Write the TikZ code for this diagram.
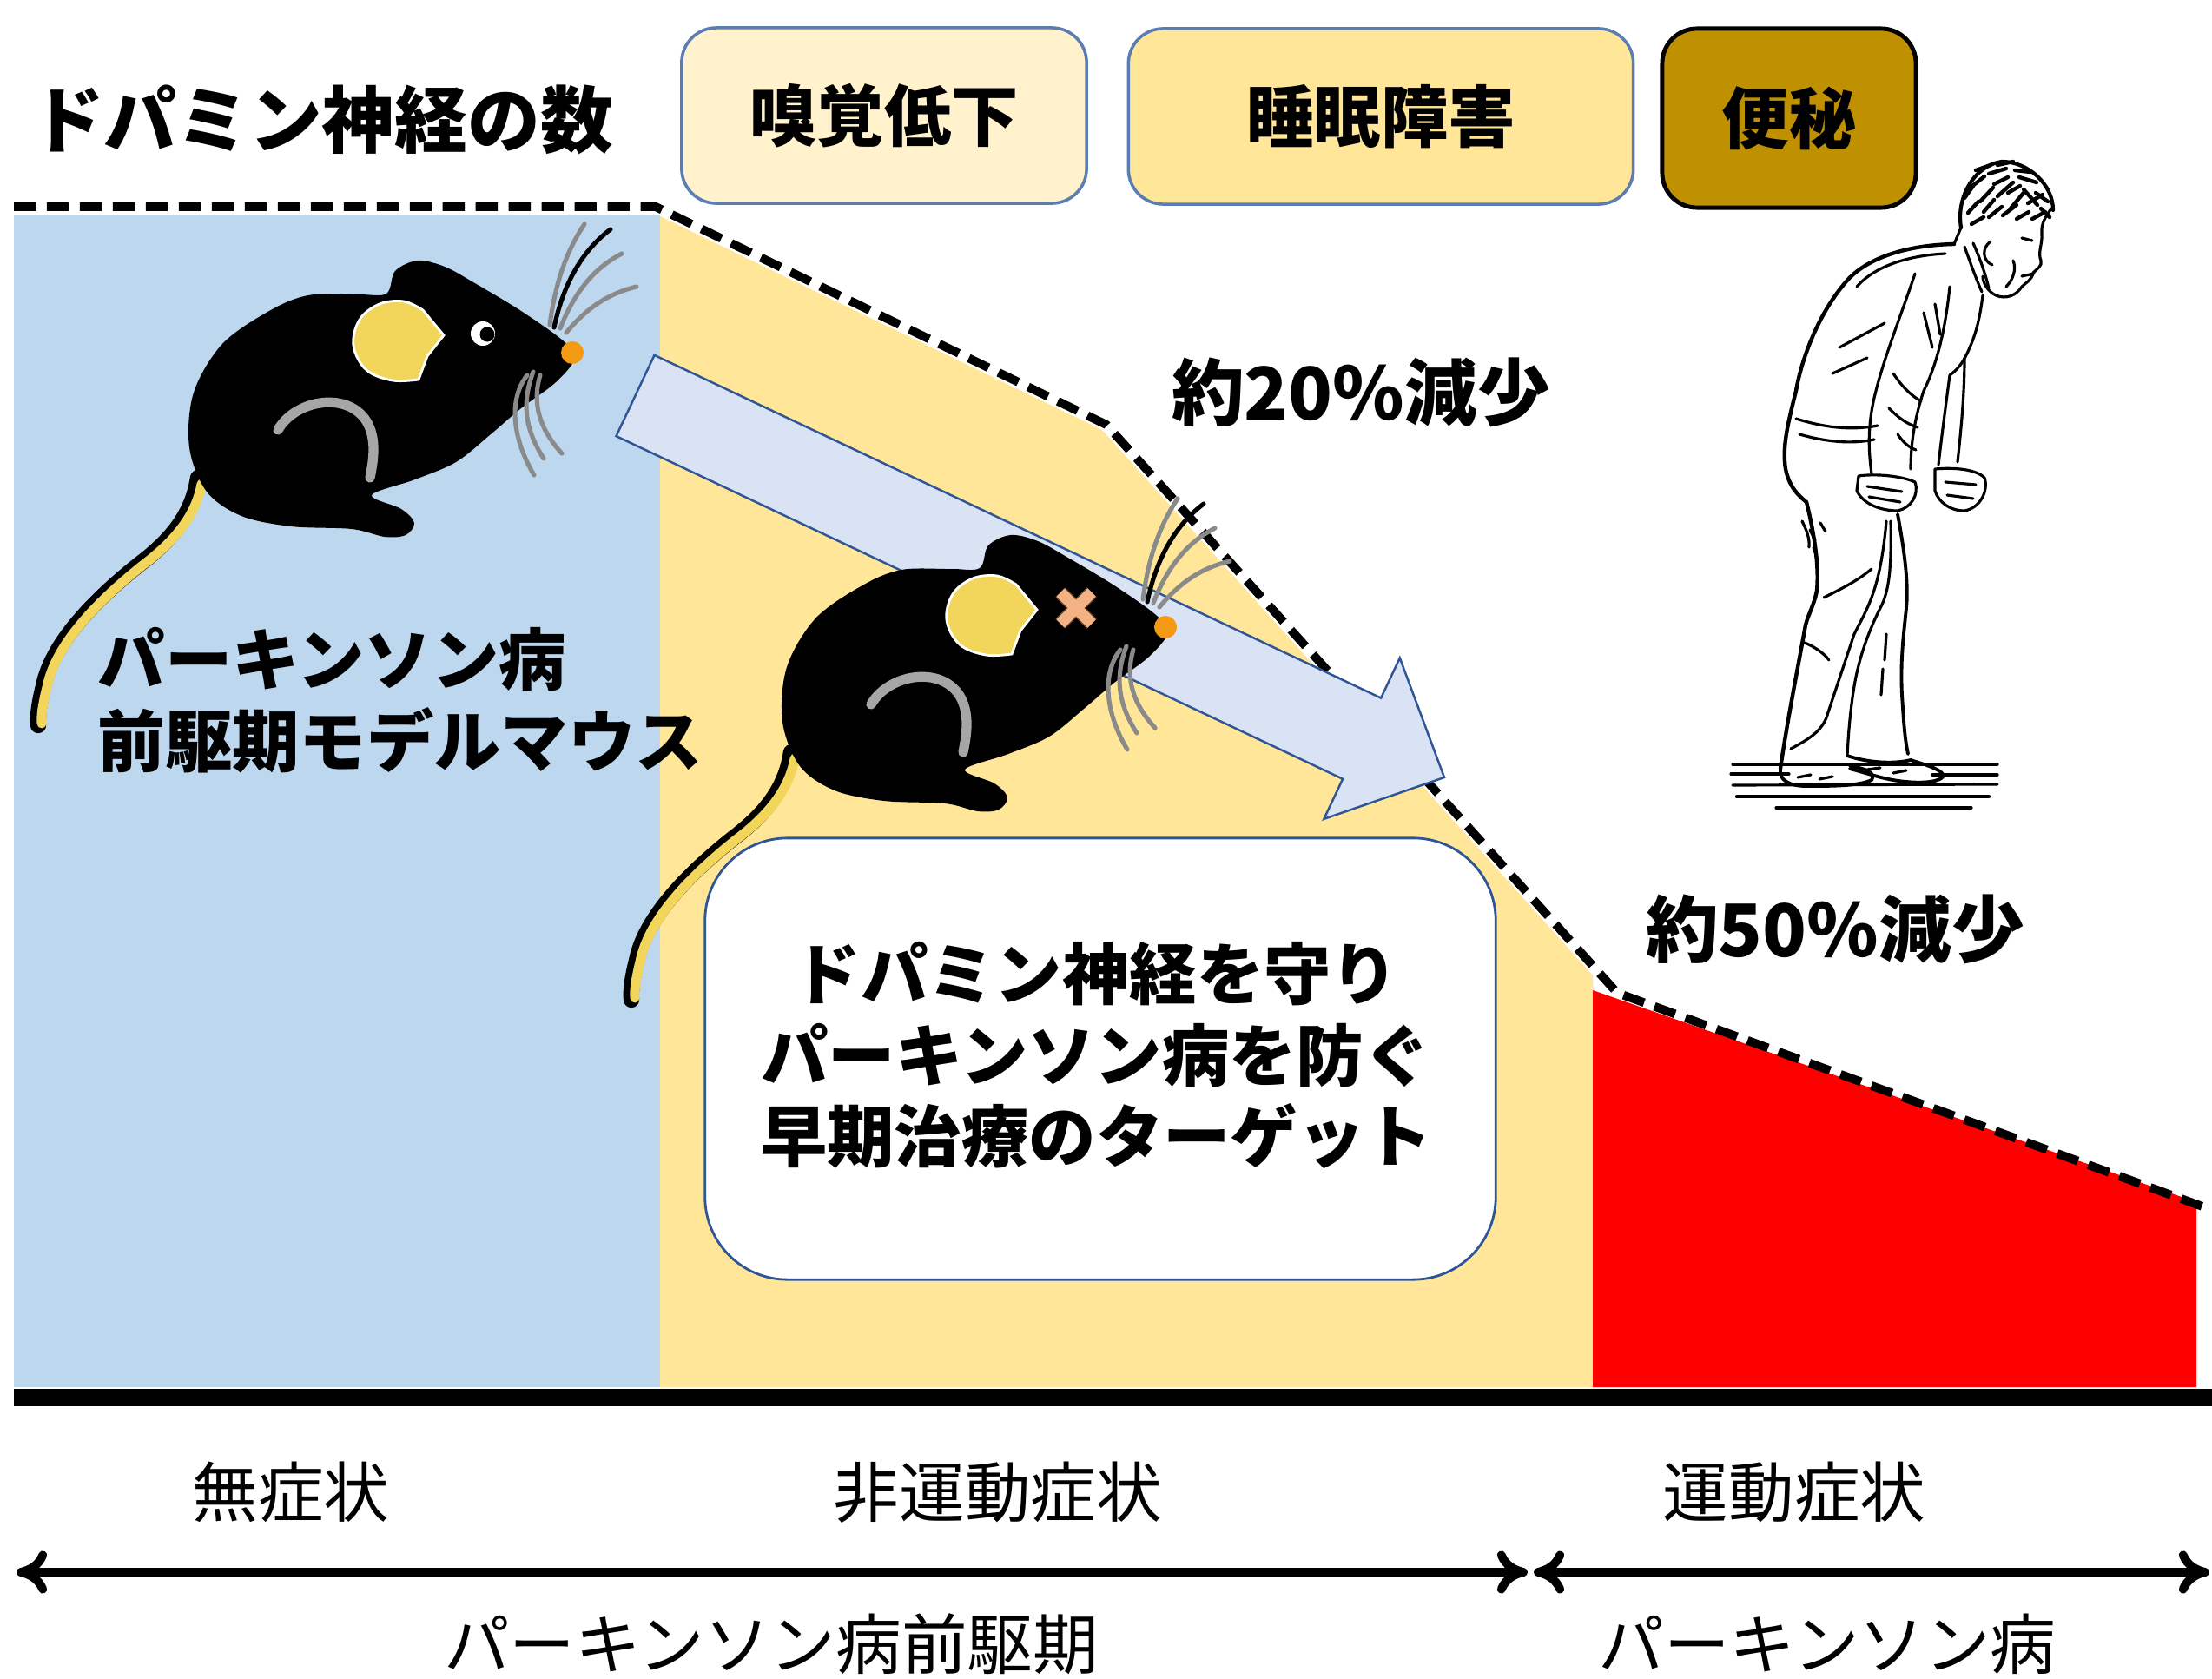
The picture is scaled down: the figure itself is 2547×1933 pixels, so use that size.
\documentclass[tikz,border=0pt]{standalone}
\usepackage{fontspec}
\setmainfont{Noto Sans CJK JP}
\usetikzlibrary{arrows.meta}

\definecolor{bgblue}{HTML}{BDD7EE}
\definecolor{bgyellow}{HTML}{FFE699}
\definecolor{paleyellow}{HTML}{FFF2CC}
\definecolor{mustard}{HTML}{BF9000}
\definecolor{boxedge}{HTML}{5B7DB1}
\definecolor{arrowfill}{HTML}{DAE3F3}
\definecolor{arrowedge}{HTML}{2F5597}
\definecolor{earyellow}{HTML}{F2D65C}
\definecolor{noseorange}{HTML}{F39A12}
\definecolor{leggray}{HTML}{A6A6A6}
\definecolor{whiskergray}{HTML}{8A8A8A}
\definecolor{peach}{HTML}{F4B183}

\tikzset{
  jpbold/.style={font=\bfseries\fontsize{22pt}{26.7pt}\selectfont, inner sep=0pt},
  jpbig/.style={font=\bfseries\fontsize{23.8pt}{28pt}\selectfont, inner sep=0pt},
  jpplain/.style={font=\fontsize{21.5pt}{26pt}\selectfont, inner sep=0pt},
  symbox/.style={rounded corners=0.4cm, draw=boxedge, line width=1pt, inner sep=0pt,
    font=\bfseries\fontsize{22pt}{26pt}\selectfont},
  dropline/.style={line width=2.8pt, dash pattern=on 7.2pt off 3.6pt},
  bigarrow/.style={fill=arrowfill, draw=arrowedge, line width=0.7pt, line join=miter},
  span/.style={line width=2.8pt, {Computer Modern Rightarrow[length=10pt,width=14pt]}-{Computer Modern Rightarrow[length=10pt,width=14pt]}},
  whisker/.style={draw=whiskergray, line width=1.45pt, line cap=round},
  manline/.style={line width=0.9pt, line cap=round, line join=round},
  mousefig/.pic={
    % tail: dark edge with a yellow core
    \draw[line width=5.2pt, line cap=round] (228,550) .. controls (222,590) and (200,620) .. (160,650)
      .. controls (110,690) and (60,740) .. (50,790) .. controls (45,810) and (43,825) .. (44,835);
    \draw[earyellow, line width=3.1pt, line cap=round, shift={(4,1)}] (228,556) .. controls (222,590) and (200,620) .. (160,650)
      .. controls (110,690) and (60,740) .. (50,790) .. controls (45,810) and (43,825) .. (44,832);
    % body with head and hind foot
    \fill[black] plot[smooth cycle, tension=0.55] coordinates {
      (445,338) (455,312) (481,300) (512,307) (545,325) (600,358) (648,392) (662,412)
      (640,440) (600,470) (565,500) (525,532) (478,552) (428,570) (462,586) (477,602)
      (467,616) (443,618) (405,609) (335,606) (278,594) (238,566) (218,515) (223,452)
      (256,396) (310,358) (355,340) (412,339)};
    % ear
    \filldraw[fill=earyellow, draw=white, line width=0.8pt]
      plot[smooth, tension=0.6] coordinates {(482,437) (452,438) (422,426) (407,398) (414,368) (437,350) (465,347) (487,357)}
      -- (511,386) -- (492,410) -- cycle;
    % hind leg
    \draw[leggray, line width=3.2pt, line cap=round] (320,495) .. controls (340,460) and (400,450) .. (422,485)
      .. controls (434,505) and (430,530) .. (426,550);
    % nose
    \fill[noseorange] (659,406) circle (13);
    % whiskers
    \draw[whisker] (633,374) .. controls (640,320) and (655,285) .. (673,258);
    \draw[whisker, draw=black] (638,377) .. controls (650,320) and (675,285) .. (703,264);
    \draw[whisker] (645,378) .. controls (662,335) and (685,308) .. (716,292);
    \draw[whisker] (652,383) .. controls (675,355) and (700,338) .. (733,330);
    \draw[whisker] (607,432) .. controls (585,460) and (590,505) .. (615,547);
    \draw[whisker] (614,428) .. controls (600,465) and (605,495) .. (626,528);
    \draw[whisker] (622,432) .. controls (612,465) and (622,495) .. (647,522);
  }
}

\begin{document}
\begin{tikzpicture}[x=0.01cm, y=-0.01cm]
\useasboundingbox (0,0) rectangle (2547,1933);
\fill[white] (0,0) rectangle (2547,1933);

% stage backgrounds
\fill[bgblue] (16,248) rectangle (760,1597);
\fill[bgyellow] (760,249) -- (1269,495) -- (1834,1123) -- (1834,1597) -- (760,1597) -- cycle;
\fill[red] (1834,1140) -- (2529,1384) -- (2529,1597) -- (1834,1597) -- cycle;

% decline of dopamine neurons
\coordinate (d0) at (16,238);
\coordinate (d1) at (755,238);
\coordinate (d2) at (1274,489);
\coordinate (d3) at (1862,1143);
\coordinate (d4) at (2547,1393);
\draw[dropline] (d0) -- (d1) -- (d2) -- (d3) -- (d4);

% time axis
\coordinate (ax0) at (16,1609);
\coordinate (ax1) at (2547,1609);
\draw[line width=5.7pt] (ax0) -- (ax1);

% healthy-looking model mouse
\pic at (0,0) {mousefig};
\fill[white] (556,384) circle (14);
\fill[black] (561,385) circle (8.5);

% progression arrow
\coordinate (a1) at (753.5,408.9);
\coordinate (a2) at (1590.1,803.6);
\coordinate (a3) at (1611.8,757.5);
\coordinate (a4) at (1663,895);
\coordinate (a5) at (1524.4,942.9);
\coordinate (a6) at (1546.1,896.8);
\coordinate (a7) at (709.5,502.1);
\draw[bigarrow] (a1) -- (a2) -- (a3) -- (a4) -- (a5) -- (a6) -- (a7) -- cycle;

% affected mouse
\pic at (683,316) {mousefig};
\begin{scope}[shift={(683,316)}]
  \draw[line width=4.6pt, draw=black!50!brown] (538,366) -- (574,402) (538,402) -- (574,366);
  \draw[line width=3.8pt, peach] (538,366) -- (574,402) (538,402) -- (574,366);
\end{scope}

% message box
\node[draw=arrowedge, fill=white, line width=0.8pt, rounded corners=0.95cm,
      minimum width=9.1cm, minimum height=5.08cm] (target) at (1267,1219) {};
\node[jpbold, align=center] (targettxt) at (1262,1215)
  {ドパミン神経を守り\\パーキンソン病を防ぐ\\早期治療のターゲット};

% titles and labels
\node[jpbig] (title) at (371,138) {ドパミン神経の数};
\node[jpbold, align=left, anchor=west] (mouselbl) at (112,806) {パーキンソン病\\前駆期モデルマウス};
\node[jpbig] (drop20) at (1567,452) {約20\%減少};
\node[jpbig] (drop50) at (2113,1070) {約50\%減少};

% non-motor and motor symptoms
\node[symbox, fill=paleyellow, minimum width=4.66cm, minimum height=2.02cm] (smell) at (1018,133) {嗅覚低下};
\node[symbox, fill=bgyellow, minimum width=5.81cm, minimum height=2.02cm] (sleep) at (1590,134) {睡眠障害};
\node[symbox, fill=mustard, draw=black, line width=1.4pt, minimum width=2.92cm, minimum height=2.06cm] (consti) at (2060,136) {便秘};

% stooped patient
\begin{scope}[manline]
  % head and hair
  \draw[line width=1.2pt] (2258,262) .. controls (2252,225) and (2275,190) .. (2305,186) .. controls (2335,186) and (2364,212) .. (2364,242);
  \draw (2362,240) .. controls (2355,250) and (2350,258) .. (2351,268) .. controls (2352,282) and (2346,290) .. (2350,300)
        .. controls (2352,306) and (2345,310) .. (2341,314) .. controls (2340,322) and (2332,326) .. (2328,330)
        .. controls (2322,340) and (2310,345) .. (2298,340) .. controls (2288,335) and (2283,325) .. (2283,318);
  \draw (2292,278) .. controls (2282,285) and (2282,300) .. (2294,305);
  \draw (2328,274) -- (2340,277);
  \draw (2328,318) -- (2342,315);
  \draw (2318,300) .. controls (2322,310) and (2318,322) .. (2310,330);
  \foreach \xa/\ya/\xb/\yb in {2270/215/2285/203, 2280/232/2295/216, 2290/200/2310/194, 2300/226/2318/210,
      2315/240/2330/222, 2325/204/2345/210, 2335/234/2352/224, 2266/245/2278/232, 2290/250/2305/238,
      2340/252/2355/244, 2306/248/2322/236, 2320/196/2338/198, 2275/196/2292/190, 2262/228/2272/214,
      2284/244/2296/230, 2296/212/2312/204, 2312/222/2326/214, 2330/218/2346/236, 2344/222/2358/232,
      2300/190/2318/186, 2270/258/2284/250, 2322/252/2336/244, 2350/240/2360/250}
    \draw[line width=1.25pt] (\xa,\ya) -- (\xb,\yb);
  % neck and collar
  \draw (2258,262) -- (2250,281);
  \draw (2262,284) .. controls (2268,300) and (2274,318) .. (2282,336);
  \draw (2272,280) .. controls (2280,298) and (2286,315) .. (2290,332);
  % back, seat and rear leg
  \draw[line width=1.25pt] (2250,281) .. controls (2200,282) and (2150,295) .. (2125,325)
        .. controls (2095,360) and (2075,410) .. (2068,450) .. controls (2058,490) and (2052,515) .. (2056,540)
        .. controls (2060,560) and (2070,570) .. (2080,578) .. controls (2088,610) and (2095,650) .. (2092,680)
        .. controls (2088,700) and (2080,710) .. (2078,725) .. controls (2068,780) and (2058,830) .. (2050,885);
  \draw (2240,292) .. controls (2200,294) and (2160,305) .. (2138,330);
  \draw (2062,862) .. controls (2085,850) and (2100,840) .. (2105,820) .. controls (2115,790) and (2125,760) .. (2135,730)
        .. controls (2150,700) and (2165,680) .. (2172,600);
  \draw (2100,688) .. controls (2120,678) and (2140,668) .. (2155,655);
  \draw (2078,740) .. controls (2090,745) and (2100,752) .. (2106,760);
  \draw (2084,610) -- (2090,622) (2088,630) -- (2092,642) (2096,602) -- (2102,612);
  % front leg
  \draw (2177,600) .. controls (2178,650) and (2176,680) .. (2165,700) .. controls (2150,730) and (2140,760) .. (2135,790)
        .. controls (2130,820) and (2128,850) .. (2127,870);
  \draw[line width=1.1pt] (2185,592) .. controls (2192,630) and (2198,670) .. (2195,700) .. controls (2192,730) and (2188,760) .. (2190,800)
        .. controls (2192,830) and (2193,850) .. (2197,868);
  \draw (2172,730) -- (2170,760) (2168,770) -- (2166,800);
  % shoes
  \draw[line width=1.1pt] (2050,885) .. controls (2048,898) and (2060,905) .. (2080,905) .. controls (2110,905) and (2140,905) .. (2155,898)
        .. controls (2160,890) and (2150,885) .. (2130,882);
  \draw[line width=1.1pt] (2127,870) .. controls (2150,878) and (2180,880) .. (2200,875) .. controls (2215,880) and (2235,885) .. (2238,893)
        .. controls (2235,900) and (2215,902) .. (2195,900) .. controls (2170,898) and (2150,890) .. (2130,885);
  \draw (2070,895) -- (2085,892) (2095,897) -- (2110,894) (2150,886) -- (2165,884) (2180,890) -- (2195,887);
  % chest and arms
  \draw (2283,340) .. controls (2280,365) and (2275,385) .. (2268,400) .. controls (2262,415) and (2255,425) .. (2245,432);
  \draw (2205,315) .. controls (2190,360) and (2170,410) .. (2160,450) .. controls (2152,480) and (2150,510) .. (2155,545);
  \draw (2245,330) .. controls (2240,380) and (2230,420) .. (2215,450) .. controls (2205,480) and (2200,510) .. (2200,540);
  \draw (2245,432) .. controls (2240,470) and (2236,500) .. (2232,535);
  \draw (2262,412) .. controls (2262,455) and (2258,495) .. (2254,532);
  \draw (2140,548) .. controls (2160,545) and (2190,548) .. (2205,555) .. controls (2210,570) and (2200,585) .. (2185,588)
        .. controls (2165,588) and (2145,580) .. (2138,565) -- cycle;
  \draw (2150,560) -- (2190,566) (2152,572) -- (2188,578);
  \draw (2228,540) .. controls (2250,538) and (2275,540) .. (2285,550) .. controls (2290,565) and (2280,585) .. (2262,588)
        .. controls (2245,588) and (2232,578) .. (2228,565) -- cycle;
  \draw (2240,555) -- (2275,558) (2242,570) -- (2272,574);
  % coat hem and folds
  \draw (2068,482) .. controls (2100,492) and (2130,496) .. (2162,490);
  \draw (2072,500) .. controls (2100,508) and (2130,512) .. (2158,506);
  \draw (2118,400) -- (2170,372);
  \draw (2110,430) -- (2150,412);
  \draw (2180,430) .. controls (2190,445) and (2200,455) .. (2212,462);
  \draw (2175,470) .. controls (2185,480) and (2195,488) .. (2208,492);
  \draw (2185,500) .. controls (2192,510) and (2198,515) .. (2206,518);
  \draw (2215,360) -- (2225,400) (2228,350) -- (2234,385);
  \draw (2075,600) .. controls (2080,610) and (2084,620) .. (2083,630);
  % floor
  \draw (1995,880) -- (2300,880);
  \draw (1993,891) -- (2060,891) (2225,892) -- (2300,892);
  \draw (1995,904) -- (2300,903);
  \draw[line width=1.2pt] (2000,917) -- (2290,917);
  \draw (2045,930) -- (2270,930);
\end{scope}

% symptom phases and stages
\node[jpplain] (nosym) at (335,1718) {無症状};
\node[jpplain] (nonmotor) at (1149,1718) {非運動症状};
\node[jpplain] (motor) at (2066,1718) {運動症状};
\coordinate (s0) at (19,1810);
\coordinate (s1) at (1759,1810);
\coordinate (s2) at (1766,1810);
\coordinate (s3) at (2544,1810);
\draw[span] (s0) -- (s1);
\draw[span] (s2) -- (s3);
\node[jpplain] (prodromal) at (888,1893) {パーキンソン病前駆期};
\node[jpplain] (pd) at (2104,1893) {パーキンソン病};
\end{tikzpicture}
\end{document}
